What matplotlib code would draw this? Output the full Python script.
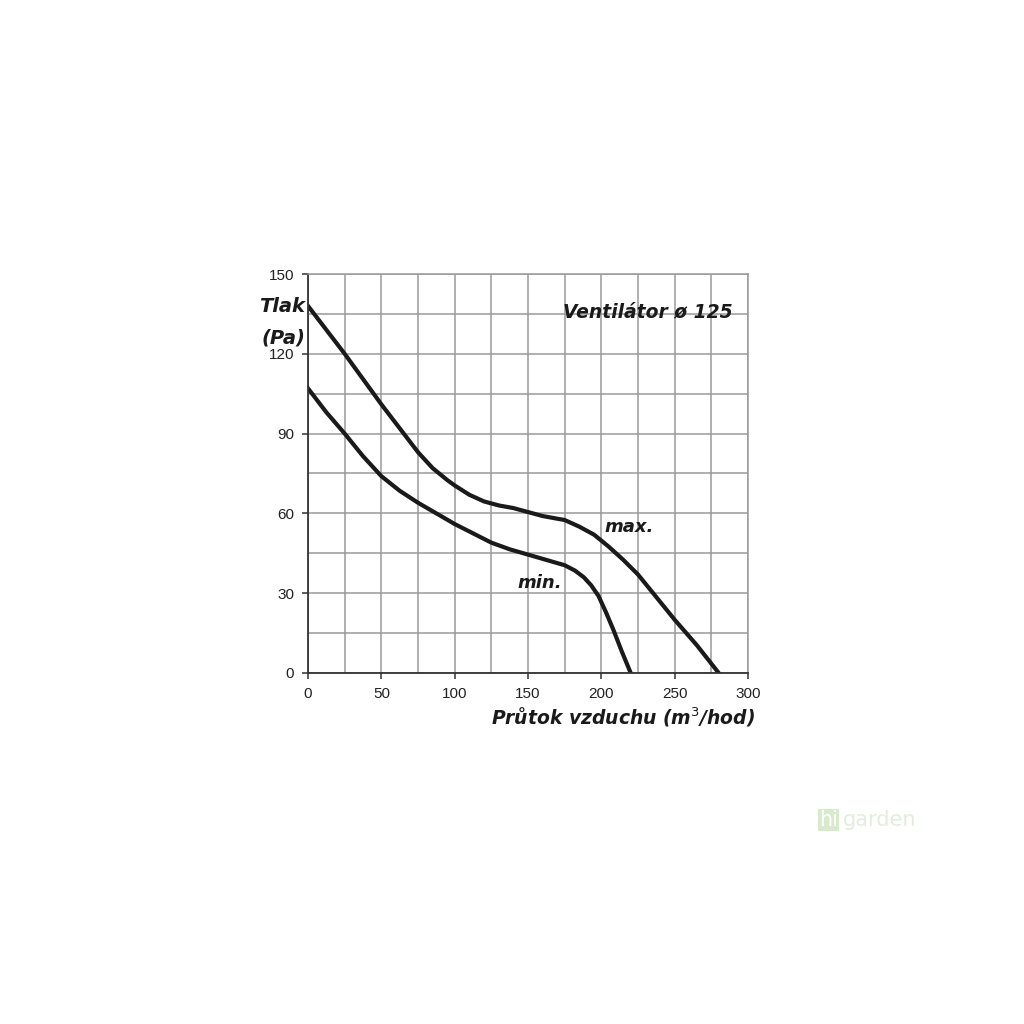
import matplotlib
matplotlib.use("Agg")
import matplotlib.pyplot as plt
from matplotlib.ticker import MultipleLocator

# fan curves: flow (m3/hod) vs pressure (Pa)
max_flow = [0, 12.5, 25, 37.5, 50, 62.5, 75, 85, 95, 100, 110, 120, 130, 140, 150,
            160, 175, 185, 195, 205, 215, 225, 237.5, 250, 265, 280]
max_press = [138, 129, 120, 110.5, 101, 92, 83, 77, 72.5, 70.5, 67, 64.5, 63, 62, 60.5,
             59, 57.5, 55, 52, 47.5, 42.5, 37, 28.5, 20, 10.5, 0]

min_flow = [0, 12.5, 25, 37.5, 50, 62.5, 75, 87.5, 100, 112.5, 125, 137.5, 150, 162.5,
            175, 182, 188, 193, 198, 203, 208, 214, 220]
min_press = [107, 98, 90, 81.5, 74, 68.5, 64, 60, 56, 52.5, 49, 46.5, 44.5, 42.5,
             40.5, 38.5, 36, 33, 29, 23, 16.5, 8, 0]

x_ticks = [0, 50, 100, 150, 200, 250, 300]
y_ticks = [0, 30, 60, 90, 120, 150]

fig = plt.figure(figsize=(10.24, 10.24), dpi=100)
ax = fig.add_axes([0.3008, 0.3428, 0.4297, 0.3896])

ax.set_xlim(0, 300)
ax.set_ylim(0, 150)
ax.set_xticks(x_ticks)
ax.set_yticks(y_ticks)
ax.xaxis.set_minor_locator(MultipleLocator(25))
ax.yaxis.set_minor_locator(MultipleLocator(15))
ax.grid(True, which="both", color="#9a9a9a", linewidth=1.1)
ax.set_axisbelow(True)

for side in ["top", "right"]:
    ax.spines[side].set_color("#9a9a9a")
    ax.spines[side].set_linewidth(1.1)
for side in ["left", "bottom"]:
    ax.spines[side].set_color("#333333")
    ax.spines[side].set_linewidth(1.3)

ax.tick_params(which="major", length=4, width=1.1, color="#333333",
               labelsize=11, labelcolor="#222222", pad=6)
ax.tick_params(which="minor", length=0)
for lbl in ax.get_xticklabels() + ax.get_yticklabels():
    lbl.set_fontfamily("Liberation Sans")

ax.plot(max_flow, max_press, color="#1a1a1a", linewidth=3.0, solid_joinstyle="round")
ax.plot(min_flow, min_press, color="#1a1a1a", linewidth=3.0, solid_joinstyle="round")

bold_it = dict(fontweight="bold", fontstyle="italic", color="#1a1a1a", family="DejaVu Sans")
ax.text(0.965, 0.905, "Ventilátor ø 125", transform=ax.transAxes, ha="right", va="center",
        fontsize=13.5, **bold_it)
ax.text(202, 55, "max.", ha="left", va="center", fontsize=13, **bold_it)
ax.text(173, 34, "min.", ha="right", va="center", fontsize=13, **bold_it)

fig.text(0.298, 0.701, "Tlak", ha="right", va="center", fontsize=14, **bold_it)
fig.text(0.298, 0.670, "(Pa)", ha="right", va="center", fontsize=14, **bold_it)
fig.text(0.737, 0.300, "Průtok vzduchu (m$^3$/hod)", ha="right", va="center", fontsize=13.5, **bold_it)

# faint watermark
fig.text(0.80, 0.199, "hi", ha="left", va="center", fontsize=15, color="white",
         bbox=dict(boxstyle="square,pad=0.05", fc="#d8eacc", ec="none"))
fig.text(0.823, 0.199, "garden", ha="left", va="center", fontsize=15, color="#e2eedb")

fig.savefig("out.png", dpi=100)
